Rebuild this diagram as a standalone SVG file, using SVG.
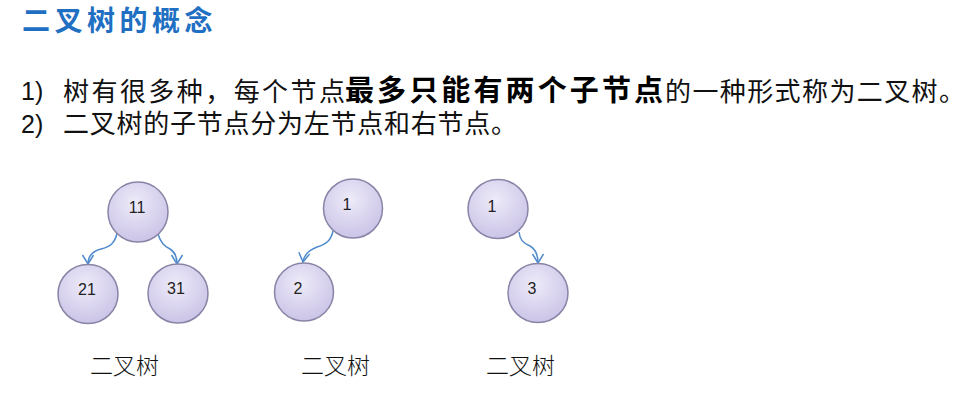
<svg xmlns="http://www.w3.org/2000/svg" width="967" height="403" viewBox="0 0 967 403">
<defs>
<style>
.title{font-family:"Noto Sans CJK SC",sans-serif;font-size:28px;font-weight:bold;fill:#1f6fc2;letter-spacing:4.5px}
.num{font-family:"Liberation Sans",Arial,sans-serif;font-size:25px;fill:#111}
.txt{font-family:"Noto Sans CJK SC",sans-serif;font-size:26px;fill:#111}
.bold{font-family:"Noto Sans CJK SC",sans-serif;font-size:29px;font-weight:bold;fill:#000}
.lbl{font-family:"Noto Sans CJK SC",sans-serif;font-size:23px;font-weight:300;fill:#111;text-anchor:middle}
.node ellipse{fill:url(#ng);stroke:#8884a6;stroke-width:1.5}
.node text{font-family:"Liberation Sans",Arial,sans-serif;font-size:16px;fill:#222;text-anchor:middle}
.edge{fill:none;stroke:#4f8bcc;stroke-width:1.5;marker-end:url(#arr)}
</style>
<radialGradient id="ng" cx="45%" cy="35%" r="65%">
<stop offset="0" stop-color="#eeebf9"/>
<stop offset="1" stop-color="#cbc4e7"/>
</radialGradient>
<marker id="arr" markerUnits="userSpaceOnUse" markerWidth="20" markerHeight="20" refX="10" refY="10" orient="auto" viewBox="0 0 20 20">
<path d="M1,4.5 L10,10 L1,15.5" fill="none" stroke="#4f8bcc" stroke-width="1.5"/>
</marker>
</defs>
<rect width="967" height="403" fill="#ffffff"/>
<text class="title" x="22" y="31">二叉树的概念</text>
<text class="num" x="21" y="100">1)</text>
<text class="txt" x="63" y="101" textLength="282" lengthAdjust="spacing">树有很多种，每个节点</text>
<text class="bold" x="345" y="101" textLength="318" lengthAdjust="spacing">最多只能有两个子节点</text>
<text class="txt" x="665" y="101" textLength="300" lengthAdjust="spacing">的一种形式称为二叉树。</text>
<text class="num" x="21" y="133">2)</text>
<text class="txt" x="63" y="133" textLength="454" lengthAdjust="spacing">二叉树的子节点分为左节点和右节点。</text>
<g id="connectors">
<path class="edge" d="M117,233 C115,243 110,247 101,249 C93,251 88,256 88,264"/>
<path class="edge" d="M158,234 C161,243 164,246 170,249 C175,252 177,257 177,264"/>
<path class="edge" d="M333,231 C331,240 327,244 317,247 C309,250 304,255 303,262"/>
<path class="edge" d="M519,232 C520,240 523,243 530,246 C535,249 538,255 538,263"/>
</g>
<g id="n11" class="node"><ellipse cx="138" cy="212" rx="30" ry="30"/><text x="137" y="213">11</text></g>
<g id="n21" class="node"><ellipse cx="88" cy="294" rx="30" ry="29.5"/><text x="87" y="295">21</text></g>
<g id="n31" class="node"><ellipse cx="178" cy="293.5" rx="30" ry="29.5"/><text x="176" y="294">31</text></g>
<g id="t2n1" class="node"><ellipse cx="353" cy="208.5" rx="29.5" ry="29.5"/><text x="347" y="210">1</text></g>
<g id="t2n2" class="node"><ellipse cx="304" cy="292" rx="29.5" ry="29"/><text x="298" y="294">2</text></g>
<g id="t3n1" class="node"><ellipse cx="498" cy="209" rx="30" ry="29.5"/><text x="492" y="211.5">1</text></g>
<g id="t3n3" class="node"><ellipse cx="538" cy="293" rx="30" ry="29.5"/><text x="532" y="294">3</text></g>
<text class="lbl" x="124.5" y="374">二叉树</text>
<text class="lbl" x="335.5" y="374">二叉树</text>
<text class="lbl" x="520.5" y="374">二叉树</text>
</svg>
